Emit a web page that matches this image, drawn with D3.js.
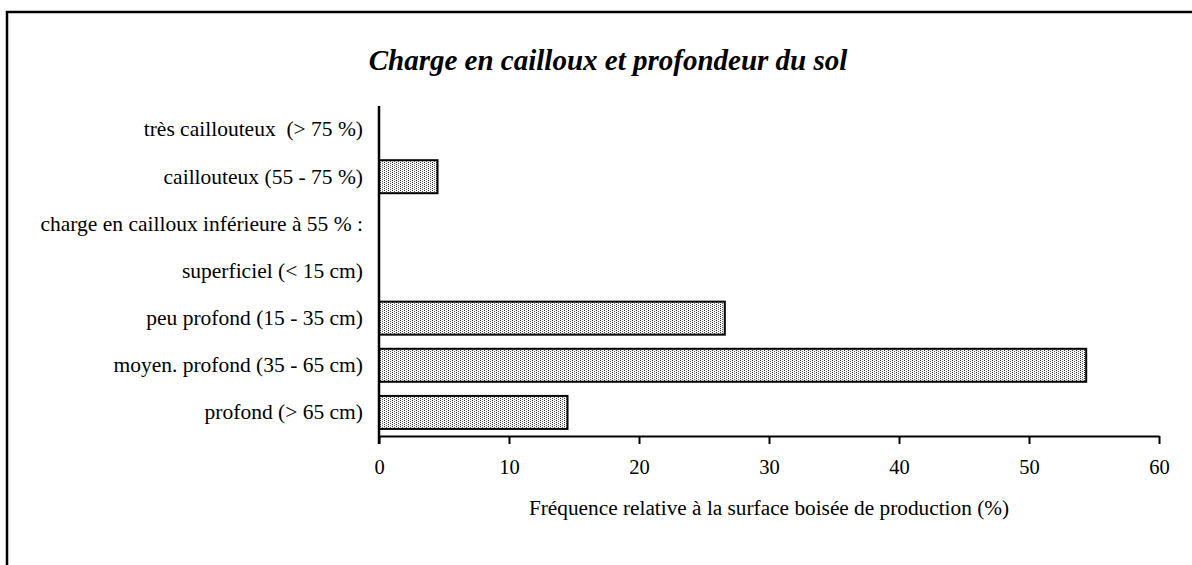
<!DOCTYPE html>
<html><head><meta charset="utf-8">
<script src="https://cdn.jsdelivr.net/npm/d3@7"></script>
<style>
html,body{margin:0;padding:0;background:#fff;}
svg text{font-family:"Liberation Serif","Times New Roman",serif;fill:#000;white-space:pre;}
</style></head>
<body>
<svg id="chart" width="1192" height="565"></svg>
<script>
const categories = [
  "très caillouteux  (> 75 %)",
  "caillouteux (55 - 75 %)",
  "charge en cailloux inférieure à 55 % :",
  "superficiel (< 15 cm)",
  "peu profond (15 - 35 cm)",
  "moyen. profond (35 - 65 cm)",
  "profond (> 65 cm)"
];
const values = [0, 4.5, 0, 0, 26.6, 54.4, 14.5];
const xTicks = [0, 10, 20, 30, 40, 50, 60];
const title = "Charge en cailloux et profondeur du sol";
const xTitle = "Fréquence relative à la surface boisée de production (%)";

const svg = d3.select("#chart");

const defs = svg.append("defs");
const pat = defs.append("pattern").attr("id","dots").attr("patternUnits","userSpaceOnUse")
  .attr("width",4).attr("height",2);
pat.append("rect").attr("width",4).attr("height",2).attr("fill","#f4f4f4");
pat.append("rect").attr("x",0).attr("y",0).attr("width",1).attr("height",1).attr("fill","#333");
pat.append("rect").attr("x",2).attr("y",1).attr("width",1).attr("height",1).attr("fill","#666");

// frame
svg.append("path").attr("d","M7,566 V12 H1193").attr("fill","none").attr("stroke","#000").attr("stroke-width",2.5);

const x = d3.scaleLinear().domain([0,60]).range([379,1159]);
const y = d3.scaleBand().domain(categories).range([106,436]).paddingInner(0.3).paddingOuter(0.15);

svg.append("text").attr("x",608).attr("y",70).attr("text-anchor","middle")
  .style("font-size","29px").style("font-weight","bold").style("font-style","italic").text(title);

svg.selectAll("rect.bar").data(categories.map((c,i)=>({c,v:values[i]})).filter(d=>d.v>0))
  .enter().append("rect").attr("class","bar")
  .attr("x",x(0)).attr("y",d=>y(d.c)).attr("width",d=>x(d.v)-x(0)).attr("height",y.bandwidth())
  .attr("fill","url(#dots)").attr("stroke","#000").attr("stroke-width",2);

const xAxis = d3.axisBottom(x).tickValues(xTicks).tickSize(8).tickPadding(15).tickSizeOuter(0);
const gx = svg.append("g").attr("transform","translate(0,436)").call(xAxis);
gx.select(".domain").attr("stroke-width",2);
gx.selectAll(".tick line").attr("stroke-width",2);
gx.selectAll(".tick text").style("font-size","20.5px").style("font-family","'Liberation Serif',serif");

const yAxis = d3.axisLeft(y).tickSize(0).tickPadding(16);
const gy = svg.append("g").attr("transform","translate(379,0)").call(yAxis);
gy.select(".domain").remove();
gy.selectAll(".tick text").style("font-size","21.5px").style("font-family","'Liberation Serif',serif");
svg.append("line").attr("x1",379).attr("x2",379).attr("y1",106).attr("y2",444).attr("stroke","#000").attr("stroke-width",2.5);

svg.append("text").attr("x",769).attr("y",515).attr("text-anchor","middle")
  .style("font-size","21.3px").text(xTitle);
</script>
</body></html>
